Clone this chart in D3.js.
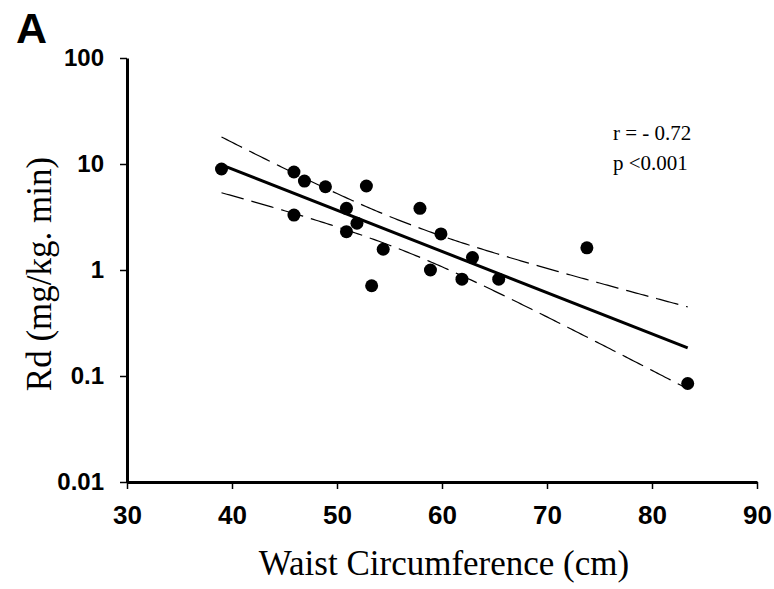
<!DOCTYPE html>
<html>
<head>
<meta charset="utf-8">
<script src="https://cdn.jsdelivr.net/npm/d3@7"></script>
<style>
  body { margin: 0; background: #fff; }
  svg { display: block; }
</style>
</head>
<body>
<div id="chart"></div>
<script>
// data: waist circumference (cm) vs Rd (mg/kg. min)
const waist = [39, 45.9, 46.9, 48.9, 52.8, 45.9, 50.9, 51.9, 50.9, 54.4, 53.3, 57.9, 59.9, 62.9, 58.9, 61.9, 65.4, 73.8, 83.4];
const rd = [8.97, 8.4, 6.9, 6.1, 6.2, 3.3, 3.82, 2.76, 2.3, 1.57, 0.71, 3.82, 2.19, 1.31, 1.0, 0.82, 0.82, 1.62, 0.085];

// axis ticks
const xTicks = [30, 40, 50, 60, 70, 80, 90];
const yTicks = [0.01, 0.1, 1, 10, 100];
const yTickLabels = ["0.01", "0.1", "1", "10", "100"];

// annotation
const statLines = ["r = - 0.72", "p <0.001"];

const width = 774;
const height = 589;

// plot area
const plotLeft = 127, plotRight = 757, plotTop = 58, plotBottom = 482;

const svg = d3.select("#chart").append("svg")
  .attr("width", width)
  .attr("height", height);

const x = d3.scaleLinear().domain([30, 90]).range([plotLeft, plotRight]);
const y = d3.scaleLog().domain([0.01, 100]).range([plotBottom, plotTop]);

const sansBold = "'Liberation Sans', Arial, sans-serif";
const serif = "'Liberation Serif', 'Times New Roman', serif";

// least squares fit on log10(Rd) with 95% confidence band
const points = waist.map((w, i) => ({ x: w, y: rd[i], ly: Math.log10(rd[i]) }));
const n = points.length;
const mx = d3.mean(points, d => d.x);
const my = d3.mean(points, d => d.ly);
const sxx = d3.sum(points, d => (d.x - mx) ** 2);
const sxy = d3.sum(points, d => (d.x - mx) * (d.ly - my));
const slope = sxy / sxx;
const intercept = my - slope * mx;
const sse = d3.sum(points, d => (d.ly - (intercept + slope * d.x)) ** 2);
const se = Math.sqrt(sse / (n - 2));
const tValue = 2.11; // t(0.975, df = 17)

const [xMin, xMax] = d3.extent(waist);
const bandX = d3.range(xMin, xMax, 0.25).concat([xMax]);
const band = bandX.map(v => {
  const fit = intercept + slope * v;
  const hw = tValue * se * Math.sqrt(1 / n + (v - mx) ** 2 / sxx);
  return { x: v, fit: fit, lo: fit - hw, hi: fit + hw };
});

const lineOf = key => d3.line()
  .x(d => x(d.x))
  .y(d => y(Math.pow(10, d[key])));

// confidence band (dashed)
["hi", "lo"].forEach(key => {
  svg.append("path")
    .datum(band)
    .attr("d", lineOf(key))
    .attr("fill", "none")
    .attr("stroke", "#000")
    .attr("stroke-width", 1.2)
    .attr("stroke-dasharray", "23,8");
});

// regression line
svg.append("path")
  .datum([band[0], band[band.length - 1]])
  .attr("d", lineOf("fit"))
  .attr("fill", "none")
  .attr("stroke", "#000")
  .attr("stroke-width", 3);

// dots
svg.selectAll(".dot")
  .data(points)
  .enter()
  .append("circle")
  .attr("class", "dot")
  .attr("cx", d => x(d.x))
  .attr("cy", d => y(d.y))
  .attr("r", 6.5)
  .attr("fill", "#000");

// x axis
const xAxis = svg.append("g")
  .attr("transform", `translate(0, ${plotBottom})`)
  .call(d3.axisBottom(x).tickValues(xTicks).tickSize(7).tickSizeOuter(0).tickPadding(17));

// y axis
const yAxis = svg.append("g")
  .attr("transform", `translate(${plotLeft}, 0)`)
  .call(d3.axisLeft(y).tickValues(yTicks).tickFormat((d, i) => yTickLabels[i]).tickSize(7).tickSizeOuter(0).tickPadding(16));

[xAxis, yAxis].forEach(g => {
  g.select(".domain").attr("stroke", "#000").attr("stroke-width", 3);
  g.selectAll(".tick line").attr("stroke", "#000").attr("stroke-width", 1.5);
  g.selectAll(".tick text")
    .attr("fill", "#000")
    .style("font-family", sansBold)
    .style("font-weight", "bold");
});
xAxis.selectAll(".tick text").style("font-size", "26px");
yAxis.selectAll(".tick text").style("font-size", "24px");

// axis titles
svg.append("text")
  .attr("x", 444)
  .attr("y", 575)
  .attr("text-anchor", "middle")
  .style("font-family", serif)
  .style("font-size", "35px")
  .text("Waist Circumference (cm)");

svg.append("text")
  .attr("transform", `translate(51, 274) rotate(-90)`)
  .attr("text-anchor", "middle")
  .style("font-family", serif)
  .style("font-size", "35px")
  .text("Rd (mg/kg. min)");

// statistics
svg.selectAll(".stat")
  .data(statLines)
  .enter()
  .append("text")
  .attr("class", "stat")
  .attr("x", 613)
  .attr("y", (d, i) => 140 + i * 30)
  .style("font-family", serif)
  .style("font-size", "21px")
  .text(d => d);

// panel letter
svg.append("text")
  .attr("x", 16)
  .attr("y", 43)
  .style("font-family", sansBold)
  .style("font-weight", "bold")
  .style("font-size", "43px")
  .text("A");
</script>
</body>
</html>
